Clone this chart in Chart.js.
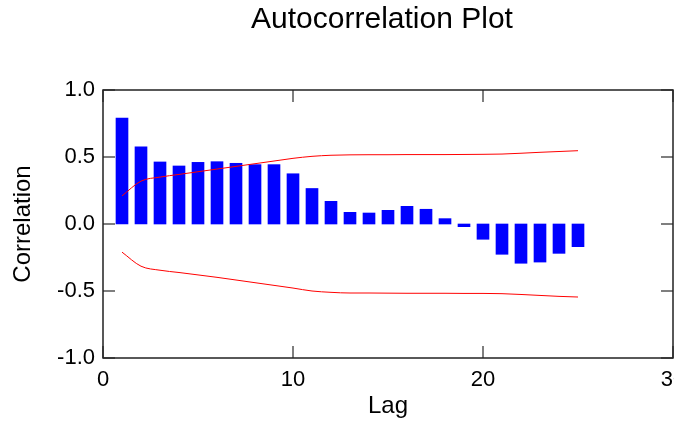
<!DOCTYPE html>
<html><head><meta charset="utf-8">
<script src="https://cdn.jsdelivr.net/npm/chart.js@4.4.1/dist/chart.umd.min.js"></script>
<style>
html,body{margin:0;padding:0;background:#fff;overflow:hidden}
#wrap{width:674px;height:421px;overflow:hidden;position:relative;background:#fff}
canvas{display:block}
</style></head>
<body><div id="wrap"><canvas id="c" width="764" height="421"></canvas></div>
<script>
const lags = [1,2,3,4,5,6,7,8,9,10,11,12,13,14,15,16,17,18,19,20,21,22,23,24,25];
const acf = [0.79,0.575,0.463,0.433,0.46,0.465,0.453,0.443,0.443,0.375,0.265,0.169,0.087,0.082,0.102,0.132,0.11,0.04,-0.02,-0.114,-0.226,-0.293,-0.284,-0.219,-0.169];
const upperBound = [0.21,0.32,0.35,0.37,0.39,0.41,0.43,0.45,0.47,0.49,0.505,0.513,0.516,0.517,0.517,0.518,0.518,0.518,0.519,0.52,0.522,0.528,0.535,0.541,0.547];
const lowerBound = [-0.21,-0.315,-0.345,-0.362,-0.38,-0.398,-0.418,-0.438,-0.458,-0.478,-0.5,-0.51,-0.515,-0.515,-0.516,-0.517,-0.517,-0.517,-0.518,-0.518,-0.52,-0.526,-0.533,-0.54,-0.545];
const xTickLabels = ['0','10','20','30'];
const yTickLabels = ['-1.0','-0.5','0.0','0.5','1.0'];

const FONT = "'Liberation Sans', Arial, Helvetica, sans-serif";

const framePlugin = {
  id: 'frame',
  afterDatasetsDraw(chart) {
    const {ctx, chartArea: a, scales: {x, y}} = chart;
    const L = 12;
    ctx.save();
    ctx.strokeStyle = '#555';
    ctx.lineWidth = 1.5;
    ctx.beginPath();
    y.ticks.forEach(t => {
      const py = y.getPixelForValue(t.value);
      ctx.moveTo(a.left, py); ctx.lineTo(a.left + L, py);
      ctx.moveTo(a.right, py); ctx.lineTo(a.right - L, py);
    });
    x.ticks.forEach(t => {
      const px = x.getPixelForValue(t.value);
      ctx.moveTo(px, a.bottom); ctx.lineTo(px, a.bottom - L);
      ctx.moveTo(px, a.top); ctx.lineTo(px, a.top + L);
    });
    ctx.stroke();
    ctx.strokeStyle = '#222';
    ctx.lineWidth = 1.5;
    ctx.strokeRect(a.left, a.top, a.right - a.left, a.bottom - a.top);
    ctx.restore();
  }
};

const toPts = arr => lags.map((l, i) => ({x: l, y: arr[i]}));

new Chart(document.getElementById('c'), {
  data: {
    datasets: [
      {type: 'line', data: toPts(upperBound), borderColor: '#ff0000', borderWidth: 1, pointRadius: 0, cubicInterpolationMode: 'monotone', fill: false, order: 0},
      {type: 'line', data: toPts(lowerBound), borderColor: '#ff0000', borderWidth: 1, pointRadius: 0, cubicInterpolationMode: 'monotone', fill: false, order: 0},
      {type: 'bar', data: toPts(acf), backgroundColor: '#0000ff', borderWidth: 0, barThickness: 12, order: 1}
    ]
  },
  options: {
    responsive: false,
    animation: false,
    events: [],
    layout: {padding: 0},
    plugins: {
      legend: {display: false},
      tooltip: {enabled: false},
      title: {
        display: true,
        text: 'Autocorrelation Plot',
        color: '#000',
        font: {family: FONT, size: 30, weight: 'normal', lineHeight: 1.2},
        padding: {top: 2, bottom: 52}
      }
    },
    scales: {
      x: {
        type: 'linear',
        min: 0, max: 30,
        offset: false,
        grid: {display: false, drawTicks: false, offset: false},
        border: {display: false},
        ticks: {
          stepSize: 10, padding: 8.3, color: '#000', maxRotation: 0, autoSkip: false,
          font: {family: FONT, size: 22, lineHeight: 1.2},
          callback: (v) => xTickLabels[Math.round(v / 10)]
        },
        title: {display: true, text: 'Lag', color: '#000', font: {family: FONT, size: 24, lineHeight: 1.2}, padding: {top: 0, bottom: 0}},
        afterFit: s => { s.height = 63; }
      },
      y: {
        min: -1, max: 1,
        grid: {display: false, drawTicks: false},
        border: {display: false},
        ticks: {
          stepSize: 0.5, padding: 8, color: '#000',
          font: {family: FONT, size: 22, lineHeight: 1.2},
          callback: (v) => yTickLabels[Math.round((v + 1) / 0.5)]
        },
        title: {display: true, text: 'Correlation', color: '#000', font: {family: FONT, size: 24, lineHeight: 1.2}, padding: {top: 9.1, bottom: 0}},
        afterFit: s => { s.width = 103; }
      },
      yRight: {
        position: 'right',
        min: -1, max: 1,
        display: true,
        grid: {display: false, drawTicks: false},
        border: {display: false},
        ticks: {display: false},
        afterFit: s => { s.width = 91; }
      }
    }
  },
  plugins: [framePlugin]
});
</script>
</body></html>
